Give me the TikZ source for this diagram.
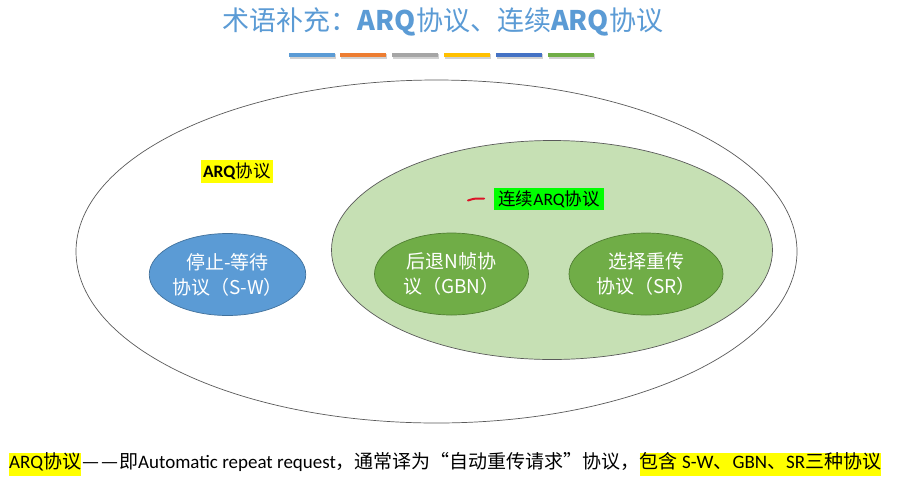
\documentclass[tikz,border=0pt]{standalone}
\usepackage{fontspec}
\usetikzlibrary{shapes.geometric}
\newfontfamily\cjk{Noto Sans CJK SC}
\newfontfamily\latf{Carlito}
\definecolor{titleblue}{RGB}{91,155,213}
\definecolor{accOrange}{RGB}{237,125,49}
\definecolor{accGray}{RGB}{165,165,165}
\definecolor{accGold}{RGB}{255,192,0}
\definecolor{accBlue}{RGB}{68,114,196}
\definecolor{accGreen}{RGB}{112,173,71}
\definecolor{lightgreen}{RGB}{198,224,180}
\definecolor{darkgreen}{RGB}{80,126,50}
\definecolor{darkblue}{RGB}{65,113,156}
\definecolor{outline}{RGB}{90,90,90}
\definecolor{hlyellow}{RGB}{255,255,0}
\definecolor{hlgreen}{RGB}{0,255,0}
\definecolor{penred}{RGB}{220,20,40}
\tikzset{
  bar/.style={rectangle, inner sep=0pt, minimum width=46pt, minimum height=4.6pt, fill=#1},
  barshadow/.style={rectangle, inner sep=0pt, minimum width=46pt, minimum height=4.6pt, fill=black, opacity=0.18},
  setoval/.style={ellipse, draw=outline, line width=0.7pt, inner sep=0pt},
  protocol/.style={ellipse, inner sep=0pt, line width=0.7pt, minimum width=154pt, minimum height=82pt,
    text=white, align=center, font=\cjk\fontsize{19}{25}\selectfont},
  highlight/.style={rectangle, inner sep=0pt, font=\cjk\fontsize{17.5}{20}\selectfont, text=black},
}
\begin{document}
\begin{tikzpicture}[x=1pt,y=-1pt]
\useasboundingbox (0,0) rectangle (899,483);
\fill[white] (0,0) rectangle (899,483);

% heading
\node[text=titleblue, font=\cjk\fontsize{27}{30}\selectfont] (title) at (443,22)
  {术语补充：\textbf{ARQ}协议、连续\textbf{ARQ}协议};

% accent strip under the heading
\foreach \i/\x/\c in {1/311.5/titleblue, 2/362.5/accOrange, 3/415/accGray,
                      4/467/accGold, 5/518.5/accBlue, 6/571/accGreen} {
  \node[barshadow] (bs\i) at (\x+1,56.5) {};
  \node[bar=\c] (bar\i) at (\x,55) {};
}

% nested sets
\node[setoval, minimum width=721pt, minimum height=343pt] (arq) at (436.5,251.5) {};
\node[setoval, fill=lightgreen, minimum width=441pt, minimum height=219pt] (cont) at (552,250) {};

\node[highlight, fill=hlyellow, minimum width=72pt, minimum height=23pt] (arqlabel) at (237,171.5)
  {\textbf{\latf ARQ}协议};
\node[highlight, fill=hlgreen, minimum width=110pt, minimum height=22pt] (contlabel) at (549,199)
  {连续{\latf ARQ}协议};

% red pen mark
\coordinate (penA) at (468,200.5);
\coordinate (penB) at (484,198.5);
\draw[penred, line width=2pt, line cap=round] (penA) .. controls (474,198.5) .. (penB);

% the three protocols
\node[protocol, fill=titleblue, draw=darkblue] (sw) at (227.5,274.5) {停止-等待\\协议（S-W）};
\node[protocol, fill=accGreen, draw=darkgreen] (gbn) at (451.5,274) {后退N帧协\\议（GBN）};
\node[protocol, fill=accGreen, draw=darkgreen] (sr) at (646,274) {选择重传\\协议（SR）};

% footnote line
\setlength{\fboxsep}{0pt}
\node[anchor=west, inner sep=0pt, font=\cjk\fontsize{19}{23}\selectfont] (note) at (9,464)
  {\colorbox{hlyellow}{\strut{\latf ARQ}协议}\kern1pt—\kern2pt—\kern1pt即{\latf Automatic repeat request}，通常译为“自动重传请求”协议，\colorbox{hlyellow}{\strut 包含{\latf\ S-W}、{\latf GBN}、{\latf SR}三种协议}};
\end{tikzpicture}
\end{document}
